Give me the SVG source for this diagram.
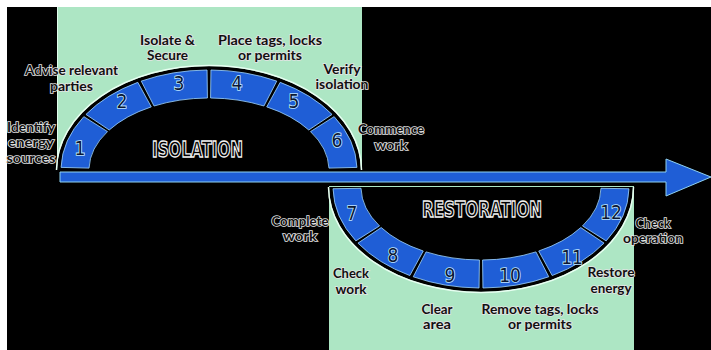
<svg xmlns="http://www.w3.org/2000/svg" width="711" height="350" viewBox="0 0 711 350">
<style>
.seg{fill:#1f5ed6;stroke:#9fd6ff;stroke-width:0.8}
.num{font-family:"DejaVu Sans Condensed","DejaVu Sans",sans-serif;font-stretch:condensed;font-size:19px;fill:#0b1733;stroke:#bfe6ff;stroke-width:1.6;paint-order:stroke;text-anchor:middle}
.lbl{font-family:Lato,"Noto Sans",sans-serif;font-weight:bold;font-size:12.5px;fill:#111;stroke:#e4e4e4;stroke-width:1.5;paint-order:stroke;text-anchor:middle}
.big{font-family:"DejaVu Sans Condensed","DejaVu Sans",sans-serif;font-weight:bold;font-size:21px;fill:#000;stroke:#f2f2f2;stroke-width:1.3;text-anchor:middle}
.green{fill:#ade6c4}
.rim{fill:none;stroke:#e8fff2;stroke-width:1.5}
</style>
<rect x="0" y="0" width="711" height="350" fill="#fff"/>
<rect x="7" y="7" width="704" height="343" fill="#000"/>
<g id="isolation-panel">
<rect class="green" x="57" y="7" width="305" height="163"/>
<line x1="57.5" y1="7" x2="57.5" y2="168" stroke="#e0fbec" stroke-width="1"/>
<path d="M57,170 A152,104 0 0 1 361,170 Z" fill="#000"/>
<path class="rim" d="M56.5,170 A152.5,104.5 0 0 1 361.5,170"/>
<text class="big" x="197.5" y="157" textLength="91" lengthAdjust="spacingAndGlyphs">ISOLATION</text>
</g>
<g id="restoration-panel">
<rect class="green" x="329" y="186" width="305" height="164"/>
<path d="M329,187 A152,105 0 0 0 633,187 Z" fill="#000"/>
<path class="rim" d="M328.5,187 A152.5,105.5 0 0 0 633.5,187"/>
<text class="big" x="482" y="217" textLength="120" lengthAdjust="spacingAndGlyphs">RESTORATION</text>
</g>
<g id="connectors">
<path d="M60,172 L666,172 L666,159 L711,177 L666,196 L666,182 L60,182 Z" fill="#1f5ed6" stroke="#8fd2f2" stroke-width="1"/>
</g>
<g id="step1">
<path class="seg" d="M61.05,167.38 A148,100 0 0 1 83.83,116.64 L107.51,131.58 A120,72 0 0 0 89.04,168.11 Z"/>
<text class="num" x="80" y="155">1</text>
<text class="lbl" x="31" y="132" textLength="48" lengthAdjust="spacingAndGlyphs">Identify</text>
<text class="lbl" x="31" y="147" textLength="46" lengthAdjust="spacingAndGlyphs">energy</text>
<text class="lbl" x="31" y="163" textLength="49" lengthAdjust="spacingAndGlyphs">sources</text>
</g>
<g id="step2">
<path class="seg" d="M85.94,114.44 A148,100 0 0 1 137.81,82.33 L151.28,106.88 A120,72 0 0 0 109.22,130 Z"/>
<text class="num" x="122" y="108">2</text>
<text class="lbl" x="71.5" y="75" textLength="93" lengthAdjust="spacingAndGlyphs">Advise relevant</text>
<text class="lbl" x="71.5" y="91" textLength="43" lengthAdjust="spacingAndGlyphs">parties</text>
</g>
<g id="step3">
<path class="seg" d="M141.24,81.1 A148,100 0 0 1 207.06,70.01 L207.43,98.01 A120,72 0 0 0 154.06,105.99 Z"/>
<text class="num" x="179" y="90">3</text>
<text class="lbl" x="167.5" y="45" textLength="55" lengthAdjust="spacingAndGlyphs">Isolate &amp;</text>
<text class="lbl" x="167.5" y="60" textLength="41" lengthAdjust="spacingAndGlyphs">Secure</text>
</g>
<g id="step4">
<path class="seg" d="M210.94,70.01 A148,100 0 0 1 276.76,81.1 L263.94,105.99 A120,72 0 0 0 210.57,98.01 Z"/>
<text class="num" x="237" y="90">4</text>
<text class="lbl" x="270" y="45" textLength="104" lengthAdjust="spacingAndGlyphs">Place tags, locks</text>
<text class="lbl" x="270" y="60" textLength="64" lengthAdjust="spacingAndGlyphs">or permits</text>
</g>
<g id="step5">
<path class="seg" d="M280.19,82.33 A148,100 0 0 1 332.06,114.44 L308.78,130 A120,72 0 0 0 266.72,106.88 Z"/>
<text class="num" x="294" y="108">5</text>
<text class="lbl" x="342" y="74" textLength="37" lengthAdjust="spacingAndGlyphs">Verify</text>
<text class="lbl" x="342" y="89" textLength="53" lengthAdjust="spacingAndGlyphs">isolation</text>
</g>
<g id="step6">
<path class="seg" d="M334.17,116.64 A148,100 0 0 1 356.95,167.38 L328.96,168.11 A120,72 0 0 0 310.49,131.58 Z"/>
<text class="num" x="337" y="147">6</text>
<text class="lbl" x="391" y="134" textLength="66" lengthAdjust="spacingAndGlyphs">Commence</text>
<text class="lbl" x="391" y="150" textLength="33" lengthAdjust="spacingAndGlyphs">work</text>
</g>
<g id="step7">
<path class="seg" d="M333.02,188.76 A148,101 0 0 0 355.83,240.89 L379.51,225.95 A120,73 0 0 1 361.02,188.27 Z"/>
<text class="num" x="352" y="220">7</text>
<text class="lbl" x="300" y="226" textLength="57" lengthAdjust="spacingAndGlyphs">Complete</text>
<text class="lbl" x="300" y="241" textLength="34" lengthAdjust="spacingAndGlyphs">work</text>
</g>
<g id="step8">
<path class="seg" d="M357.94,243.11 A148,101 0 0 0 409.81,275.55 L423.28,251 A120,73 0 0 1 381.22,227.56 Z"/>
<text class="num" x="393" y="262">8</text>
<text class="lbl" x="351" y="278" textLength="36" lengthAdjust="spacingAndGlyphs">Check</text>
<text class="lbl" x="351" y="294" textLength="31" lengthAdjust="spacingAndGlyphs">work</text>
</g>
<g id="step9">
<path class="seg" d="M413.24,276.79 A148,101 0 0 0 479.06,287.99 L479.43,259.99 A120,73 0 0 1 426.06,251.9 Z"/>
<text class="num" x="450" y="282">9</text>
<text class="lbl" x="437" y="314" textLength="31" lengthAdjust="spacingAndGlyphs">Clear</text>
<text class="lbl" x="437" y="329" textLength="28" lengthAdjust="spacingAndGlyphs">area</text>
</g>
<g id="step10">
<path class="seg" d="M482.94,287.99 A148,101 0 0 0 548.76,276.79 L535.94,251.9 A120,73 0 0 1 482.57,259.99 Z"/>
<text class="num" x="510" y="282">10</text>
<text class="lbl" x="540" y="314" textLength="117" lengthAdjust="spacingAndGlyphs">Remove tags, locks</text>
<text class="lbl" x="540" y="329" textLength="64" lengthAdjust="spacingAndGlyphs">or permits</text>
</g>
<g id="step11">
<path class="seg" d="M552.19,275.55 A148,101 0 0 0 604.06,243.11 L580.78,227.56 A120,73 0 0 1 538.72,251 Z"/>
<text class="num" x="572" y="264">11</text>
<text class="lbl" x="611" y="277" textLength="47" lengthAdjust="spacingAndGlyphs">Restore</text>
<text class="lbl" x="611" y="293" textLength="41" lengthAdjust="spacingAndGlyphs">energy</text>
</g>
<g id="step12">
<path class="seg" d="M606.17,240.89 A148,101 0 0 0 628.98,188.76 L600.98,188.27 A120,73 0 0 1 582.49,225.95 Z"/>
<text class="num" x="611" y="219">12</text>
<text class="lbl" x="653" y="228" textLength="35" lengthAdjust="spacingAndGlyphs">Check</text>
<text class="lbl" x="653" y="243" textLength="60" lengthAdjust="spacingAndGlyphs">operation</text>
</g>
</svg>
